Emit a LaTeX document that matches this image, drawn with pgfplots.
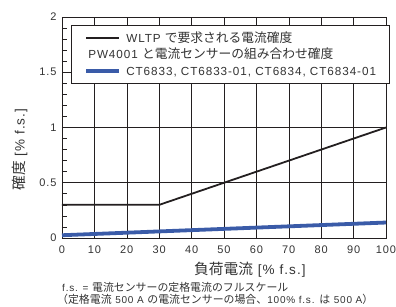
\documentclass[border=0pt]{standalone}
\usepackage{pgfplots}
\pgfplotsset{compat=1.18}
\usepackage{fontspec}
\setmainfont{Liberation Sans}[LetterSpace=8]
\newfontfamily\jp{Noto Sans CJK JP}[Scale=1.09]
\definecolor{blk}{HTML}{231F20}
\definecolor{blu}{HTML}{3A5BA8}
\definecolor{txt}{HTML}{333333}
\begin{document}
\begin{tikzpicture}
\begin{axis}[name=ax, at={(0,0)}, anchor=south west,
  scale only axis, width=324pt, height=221pt,
  xmin=0, xmax=100, ymin=0, ymax=2,
  xtick={0,10,...,100}, ytick={0,0.5,1,1.5,2},
  minor y tick num=4,
  grid=major, major grid style={blk, line width=0.6pt},
  axis line style={blk, line width=0.8pt},
  tick align=inside, xtick pos=bottom, ytick pos=left,
  major tick length=0pt, minor tick length=4.5pt,
  minor tick style={blk, line width=0.6pt},
  tick label style={font=\fontsize{11}{12}\selectfont, text=txt},
  /pgf/number format/assume math mode=true,
  xticklabel style={yshift=-4pt},
  yticklabel style={xshift=-2pt},
  xlabel={{\jp 負荷電流} [\% f.s.]},
  ylabel={{\jp 確度} [\% f.s.]},
  label style={font=\fontsize{13.5}{15}\selectfont, text=txt},
  xlabel style={at={(axis description cs:0.58,0)}, anchor=center, yshift=-32pt},
  ylabel style={at={(axis description cs:-0.130,0.40)}, anchor=center},
  legend style={at={(0.028,0.964)}, anchor=north west, draw=blk, line width=0.8pt,
    fill=white, font=\fontsize{11.7}{12}\selectfont, text=txt,
    legend cell align=left, row sep=5.5pt, column sep=5pt,
    inner xsep=13pt, inner ysep=7.5pt,
    nodes={inner sep=0pt, text height=9.8pt, text depth=1pt}},
  legend image code/.code={\draw[#1] (0pt,0pt) -- (33pt,0pt);},
]
\addplot[blk, line width=1.8pt] coordinates {(0,0.3) (30,0.3) (100,1.0)};
\addlegendentry{WLTP {\jp で要求される電流確度}}
\addlegendimage{empty legend}
\addlegendentry{\hspace{-38pt}PW4001 {\jp と電流センサーの組み合わせ確度}}
\addplot[blu, line width=3.8pt] coordinates {(0,0.025) (100,0.14)};
\addlegendentry{CT6833, CT6833-01, CT6834, CT6834-01}
\end{axis}
\node[anchor=base west, font=\fontsize{10}{12}\selectfont, text=txt, inner sep=0pt]
  at ([shift={(0pt,-53.5pt)}]ax.south west)
  {f.s. = {\jp 電流センサーの定格電流のフルスケール}};
\node[anchor=base west, font=\fontsize{10}{12}\selectfont, text=txt, inner sep=0pt]
  at ([shift={(-5pt,-66pt)}]ax.south west)
  {{\jp （定格電流} 500 A {\jp の電流センサーの場合、}100\% f.s. {\jp は} 500 A{\jp ）}};
\pgfresetboundingbox
\path ([shift={(-62pt,-69pt)}]ax.south west) rectangle ([shift={(10pt,17pt)}]ax.north east);
\end{tikzpicture}
\end{document}
